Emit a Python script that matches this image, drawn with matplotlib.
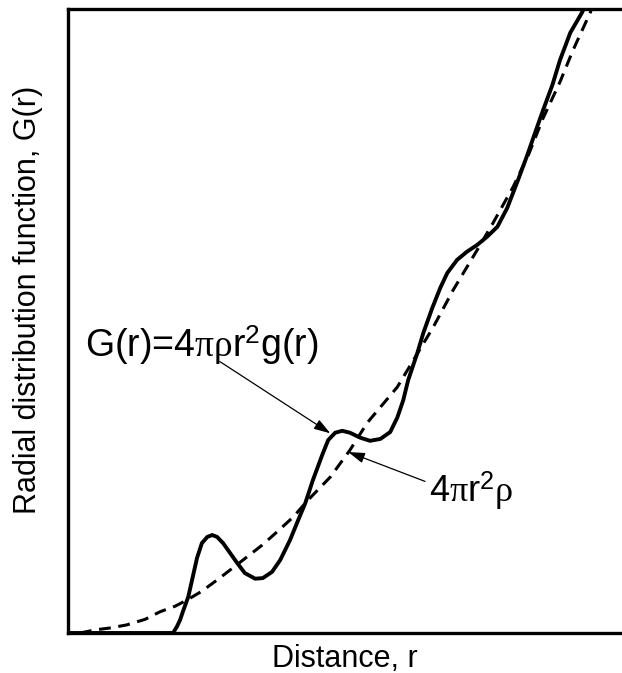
import numpy as np
import matplotlib.pyplot as plt

plt.rcParams['font.family'] = ['Liberation Sans', 'DejaVu Sans']
plt.rcParams['mathtext.fontset'] = 'custom'
plt.rcParams['mathtext.rm'] = 'Liberation Sans'
plt.rcParams['mathtext.it'] = 'Liberation Serif'
plt.rcParams['lines.scale_dashes'] = False

# G(r) = 4 pi rho r^2 g(r), solid curve
r_g = [0, 1.93, 2.00, 2.06, 2.11, 2.21, 2.28, 2.37, 2.46, 2.56, 2.65, 2.74,
       2.85, 2.98, 3.11, 3.25, 3.44, 3.58, 3.75, 3.90, 4.08, 4.23, 4.36,
       4.50, 4.67, 4.78, 4.91, 5.04, 5.18, 5.37, 5.55, 5.74, 5.92, 6.05,
       6.16, 6.25, 6.42, 6.53, 6.69, 6.84, 6.97, 7.15, 7.33, 7.52, 7.70,
       7.89, 8.07, 8.27, 8.44, 8.58, 8.73, 8.90, 9.04, 9.23, 9.45, 9.50]
G = [0, 0, 0.10, 0.21, 0.34, 0.58, 0.85, 1.20, 1.44, 1.54, 1.57, 1.54,
     1.44, 1.28, 1.12, 0.96, 0.87, 0.88, 0.98, 1.17, 1.49, 1.81, 2.08,
     2.45, 2.85, 3.09, 3.21, 3.24, 3.21, 3.13, 3.08, 3.11, 3.22, 3.45,
     3.73, 4.05, 4.49, 4.81, 5.20, 5.53, 5.77, 5.98, 6.11, 6.22, 6.35,
     6.51, 6.81, 7.26, 7.66, 8.01, 8.38, 8.78, 9.18, 9.62, 9.95, 10.06]

# average density curve 4 pi r^2 rho, dashed
r_avg = [0.22, 0.50, 0.77, 1.08, 1.42, 1.69, 1.97, 2.19, 2.46, 2.74, 3.01,
         3.29, 3.57, 3.84, 4.14, 4.41, 4.82, 5.18, 5.50, 5.77, 6.05, 6.38,
         6.71, 7.08, 7.52, 7.81, 8.18, 8.46, 8.73, 9.04, 9.28, 9.60, 9.65]
G_avg = [0, 0.05, 0.08, 0.13, 0.22, 0.34, 0.43, 0.53, 0.67, 0.85, 1.03,
         1.22, 1.41, 1.62, 1.86, 2.13, 2.50, 2.93, 3.37, 3.65, 3.94, 4.42,
         4.90, 5.50, 6.14, 6.57, 7.15, 7.66, 8.25, 8.83, 9.34, 9.95, 10.06]

fig = plt.figure(figsize=(6.22, 6.73), dpi=100)
ax = fig.add_axes([68 / 622, 40 / 673, 554 / 622, 624 / 673])

ax.plot(r_avg, G_avg, color='black', lw=2.2, dashes=(8.5, 5.5))
ax.plot(r_g, G, color='black', lw=2.8, solid_joinstyle='round')

ax.set_xlim(0, 10.18)
ax.set_ylim(0, 10)
ax.set_xticks([])
ax.set_yticks([])
ax.spines['right'].set_visible(False)
for s in ['left', 'bottom', 'top']:
    ax.spines[s].set_linewidth(2.4)

arrow = dict(arrowstyle='-|>,head_length=0.5,head_width=0.16',
             mutation_scale=20, lw=0.9, color='black',
             shrinkA=0, shrinkB=0)
ax.annotate('', xy=(4.82, 3.20), xytext=(2.79, 4.35), arrowprops=arrow)
ax.annotate('', xy=(5.15, 2.90), xytext=(6.56, 2.43), arrowprops=arrow)

ax.text(0.31, 4.42, r'G(r)=4$\pi\rho$r$^2$g(r)',
        fontsize=27, ha='left', va='baseline')
ax.text(6.64, 2.10, r'4$\pi$r$^2\rho$',
        fontsize=26, ha='left', va='baseline')

fig.text(345 / 622, 1 - 667 / 673, 'Distance, r', fontsize=22,
         ha='center', va='baseline')
fig.text(28 / 622, 1 - 300 / 673, 'Radial distribution function, G(r)',
         fontsize=22, rotation=90, ha='center', va='center')

fig.savefig('out.png', dpi=100)
